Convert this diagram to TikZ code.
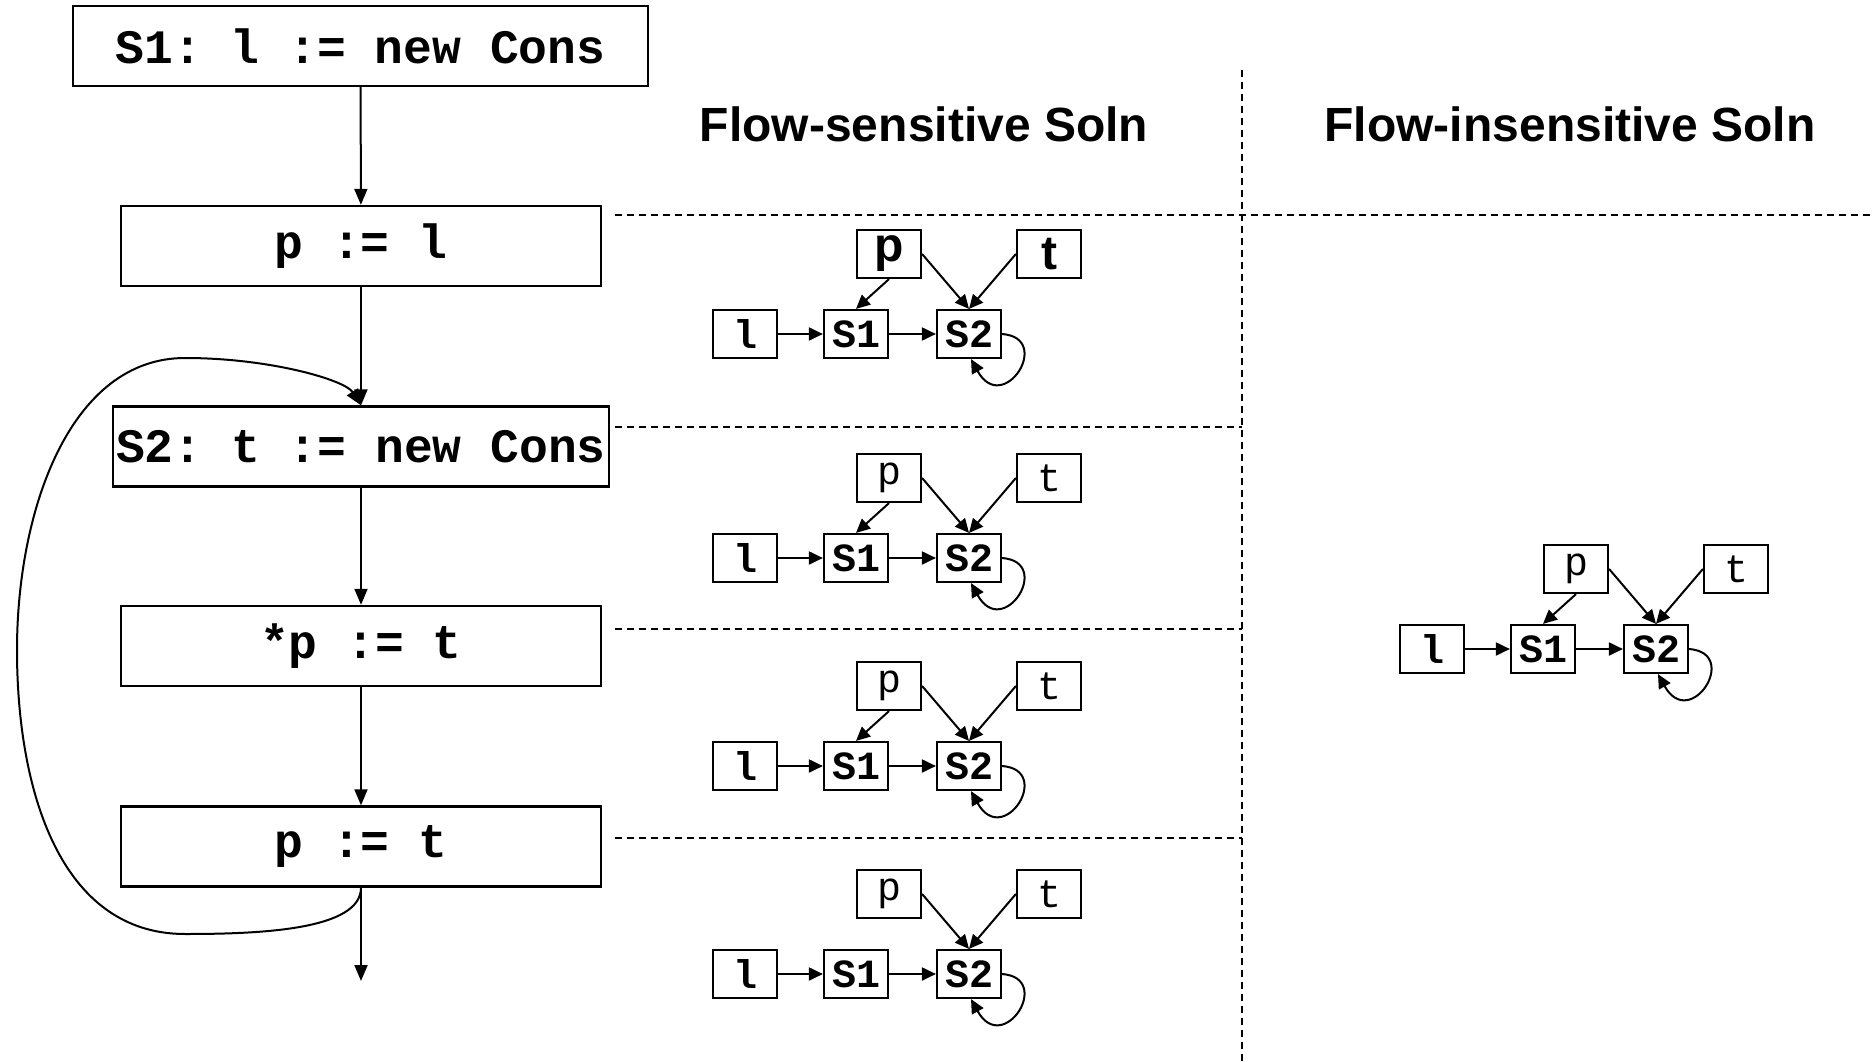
\documentclass[tikz,border=0pt]{standalone}
\usepackage{fontspec}
\setsansfont{Liberation Sans}
\setmonofont{Liberation Mono}
\usetikzlibrary{arrows.meta,calc}

\begin{document}
\begin{tikzpicture}[
        x = 1pt, y = -1pt,
        stmt/.style = {draw, line width = 2.4pt, minimum height = 80pt, inner sep = 0pt, font = \fontsize{48}{48}\ttfamily\bfseries},
        cell/.style = {draw, line width = 2.2pt, minimum width = 64pt, minimum height = 48pt, inner sep = 0pt, font = \fontsize{40}{40}\ttfamily\bfseries},
        farrow/.style = {arrows = {-Triangle[length=16pt, width=13pt]}, line width = 2pt},
        garrow/.style = {arrows = {-Triangle[length=14pt, width=13pt]}, line width = 2pt},
        sep/.style = {dash pattern = on 7pt off 5pt, line width = 1.5pt},
        title/.style = {anchor = base, font = \fontsize{48}{48}\sffamily\bfseries}
        ]
        \useasboundingbox (0,0) rectangle (1872,1062);

        % the program
        \node[stmt, minimum width = 575pt] (s1) at (360.5,46) {S1: l := new Cons};
        \node[stmt, minimum width = 480pt] (pl) at (361,246) {p := l};
        \node[stmt, minimum width = 496pt] (s2) at (361,446.5) {S2: t := new Cons};
        \node[stmt, minimum width = 480pt] (st) at (361,646) {*p := t};
        \node[stmt, minimum width = 480pt] (pt) at (361,846.5) {p := t};
        \coordinate (exit) at (361,981);

        \draw[farrow] (s1) -- (pl);
        \draw[farrow] (pl) -- (s2);
        \draw[farrow] (s2) -- (st);
        \draw[farrow] (st) -- (pt);
        \draw[farrow] (pt) -- (exit);
        \draw[farrow] (pt.south) .. controls (361,930) and (260,934) .. (185,934)
            .. controls (60,934) and (17,790) .. (17,650)
            .. controls (17,510) and (70,358) .. (185,358)
            .. controls (270,358) and (345,380) .. (s2.north);

        % titles and separators
        \node[title] (fs) at (924,142) {Flow-sensitive Soln};
        \node[title] (fi) at (1570,142) {Flow-insensitive Soln};

        \draw[sep] (1242,70) -- (1242,1062);
        \draw[sep] (615,215) -- (1872,215);
        \foreach \y in {427,629,838}
            \draw[sep] (615,\y) -- (1242,\y);

        % points-to graphs
        \foreach \i/\x/\y in {1/745/334, 2/745/558, 3/745/766, 4/745/974, 5/1432/649} {
            \ifnum\i=1
                \tikzset{pt/.style = {cell, font = \fontsize{48}{48}\sffamily\bfseries}}
            \else
                \tikzset{pt/.style = {cell, font = \fontsize{40}{40}\ttfamily}}
            \fi
            \node[cell] (l\i) at (\x,\y) {l};
            \node[cell] (a\i) at (\x+111,\y) {S1};
            \node[cell] (b\i) at (\x+224,\y) {S2};
            \node[pt] (p\i) at (\x+144,\y-80) {p};
            \node[pt] (t\i) at (\x+304,\y-80) {t};

            \draw[garrow] (l\i) -- (a\i);
            \draw[garrow] (a\i) -- (b\i);
            \ifnum\i=4 \else
                \draw[garrow] (p\i.south) -- (a\i.north);
            \fi
            \draw[garrow] (p\i.east) -- (b\i.north);
            \draw[garrow] (t\i.west) -- (b\i.north);
            \draw[garrow] (b\i.east) .. controls +(52,4) and +(32,58) .. ([xshift=2pt]b\i.south);
        }

    \end{tikzpicture}
\end{document}
